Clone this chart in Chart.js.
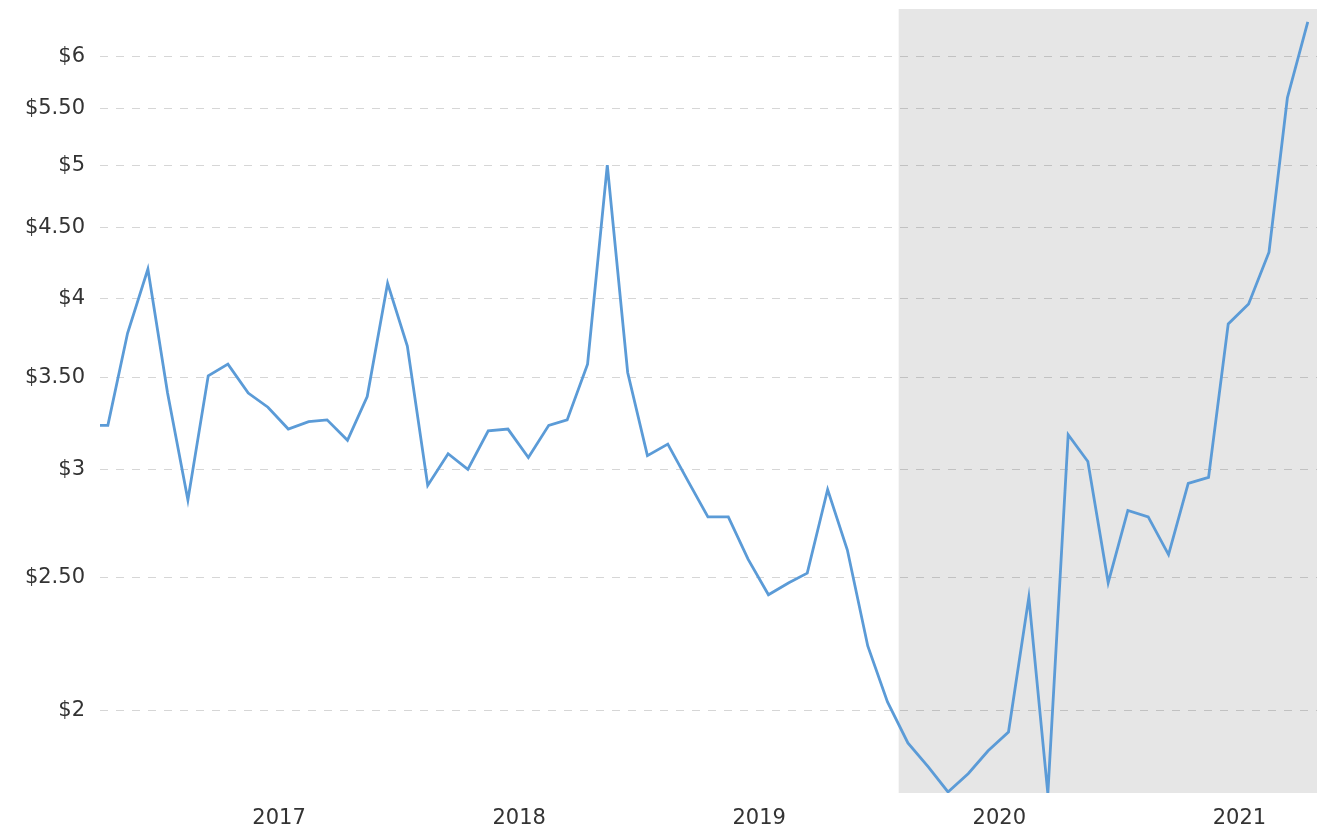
<!DOCTYPE html>
<html>
<head>
<meta charset="utf-8">
<script src="https://cdn.jsdelivr.net/npm/chart.js@4/dist/chart.umd.min.js"></script>
<style>
  html, body { margin: 0; padding: 0; background: #ffffff; }
  #wrap { width: 1328px; height: 837px; position: relative; }
</style>
</head>
<body>
<div id="wrap"><canvas id="c"></canvas></div>
<script>
// ---- data ----
const dates = [
  '2016-04-03','2016-04-15','2016-05-15','2016-06-15','2016-07-15','2016-08-15','2016-09-15','2016-10-15','2016-11-15','2016-12-15',
  '2017-01-15','2017-02-15','2017-03-15','2017-04-15','2017-05-15','2017-06-15','2017-07-15','2017-08-15','2017-09-15','2017-10-15','2017-11-15','2017-12-15',
  '2018-01-15','2018-02-15','2018-03-15','2018-04-15','2018-05-15','2018-06-15','2018-07-15','2018-08-15','2018-09-15','2018-10-15','2018-11-15','2018-12-15',
  '2019-01-15','2019-02-15','2019-03-15','2019-04-15','2019-05-15','2019-06-15','2019-07-15','2019-08-15','2019-09-15','2019-10-15','2019-11-15','2019-12-15',
  '2020-01-15','2020-02-15','2020-03-15','2020-04-15','2020-05-15','2020-06-15','2020-07-15','2020-08-15','2020-09-15','2020-10-15','2020-11-15','2020-12-15',
  '2021-01-15','2021-02-15','2021-03-15','2021-04-15'
];
const prices = [
  3.23, 3.23, 3.77, 4.20, 3.41, 2.85, 3.51, 3.58, 3.41, 3.33,
  3.21, 3.25, 3.26, 3.15, 3.39, 4.10, 3.69, 2.92, 3.08, 3.00, 3.20, 3.21,
  3.06, 3.23, 3.26, 3.58, 5.00, 3.53, 3.07, 3.13, 2.94, 2.77, 2.77, 2.58,
  2.43, 2.48, 2.52, 2.90, 2.62, 2.23, 2.03, 1.895, 1.82, 1.745, 1.80, 1.87,
  1.93, 2.42, 1.74, 3.18, 3.04, 2.48, 2.80, 2.77, 2.60, 2.93, 2.96, 3.83,
  3.96, 4.32, 5.60, 6.36
];
const yTicks = [2, 2.5, 3, 3.5, 4, 4.5, 5, 5.5, 6];
const xTicks = [2017, 2018, 2019, 2020, 2021];
const yMin = 1.742, yMax = 6.5;
const xEnd = '2021-04-29';
const shadeStart = '2019-08-01';

function toYear(s) {
  const d = new Date(s + 'T00:00:00Z');
  const y = d.getUTCFullYear();
  const a = Date.UTC(y, 0, 1), b = Date.UTC(y + 1, 0, 1);
  return y + (d.getTime() - a) / (b - a);
}

const points = dates.map((d, i) => ({ x: toYear(d), y: prices[i] }));

const shadePlugin = {
  id: 'shade',
  beforeDraw(chart) {
    const { ctx, chartArea, scales } = chart;
    const x0 = scales.x.getPixelForValue(toYear(shadeStart));
    ctx.save();
    ctx.fillStyle = '#e6e6e6';
    ctx.fillRect(x0, chartArea.top, chartArea.right - x0, chartArea.bottom - chartArea.top);
    ctx.restore();
  }
};

Chart.defaults.font.family = '"DejaVu Sans", Verdana, sans-serif';
Chart.defaults.font.size = 20;
Chart.defaults.color = '#333333';

new Chart(document.getElementById('c'), {
  type: 'line',
  data: {
    datasets: [{
      data: points,
      borderColor: '#5b9bd7',
      borderWidth: 2.8,
      pointRadius: 0,
      tension: 0,
      fill: false
    }]
  },
  options: {
    responsive: true,
    maintainAspectRatio: false,
    animation: false,
    layout: { padding: { top: 9, right: 11, bottom: 0, left: 0 } },
    plugins: { legend: { display: false }, tooltip: { enabled: false } },
    scales: {
      x: {
        type: 'linear',
        min: toYear(dates[0]),
        max: toYear(xEnd),
        grid: { display: false, drawTicks: false },
        border: { display: false },
        afterBuildTicks: s => { s.ticks = xTicks.map(v => ({ value: v })); },
        afterFit: s => { s.height = 44; s.paddingLeft = 0; s.paddingRight = 0; },
        ticks: {
          autoSkip: false, maxRotation: 0, padding: 13,
          font: { size: 21 },
          callback: v => String(v)
        }
      },
      y: {
        type: 'logarithmic',
        min: yMin,
        max: yMax,
        afterFit: s => { s.width = 100; s.paddingTop = 0; s.paddingBottom = 0; },
        afterBuildTicks: s => {
          s.ticks = yTicks.map(v => ({ value: v }));
          s.min = yMin; s.max = yMax;
        },
        grid: { color: 'rgba(0,0,0,0.16)', lineWidth: 1, drawTicks: false },
        border: { display: false, dash: [8, 8] },
        ticks: {
          padding: 15,
          font: { size: 21 },
          callback: v => (Number.isInteger(v) ? '$' + v : '$' + v.toFixed(2))
        }
      }
    }
  },
  plugins: [shadePlugin]
});
</script>
</body>
</html>
